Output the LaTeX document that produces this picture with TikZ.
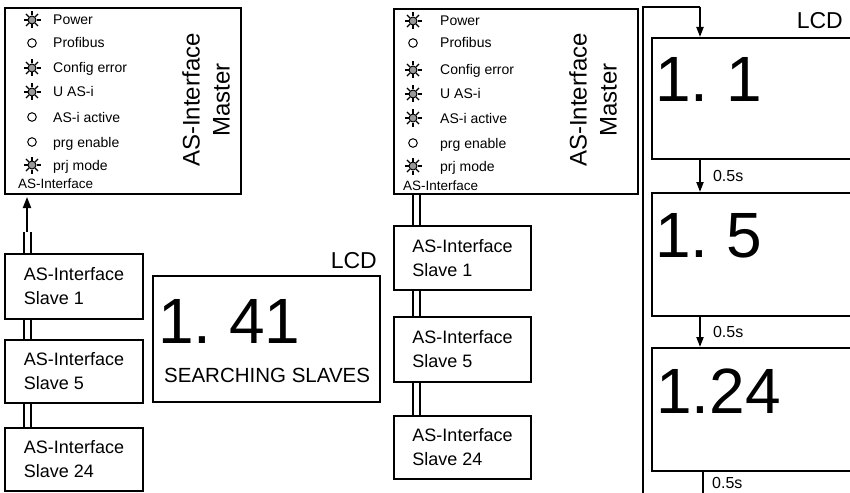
\documentclass[tikz,border=0pt]{standalone}
\usepackage{fontspec}
\setmainfont{Liberation Sans}
\usetikzlibrary{arrows.meta,backgrounds}
\begin{document}
\begin{tikzpicture}[x=1pt,y=-1pt,
  box/.style={draw, line width=2pt, inner sep=0pt},
  slave/.style={box, align=left, anchor=north west, minimum width=138pt, font=\fontsize{18}{24}\selectfont},
  ledtxt/.style={anchor=base west, inner sep=0pt, font=\fontsize{14}{16}\selectfont},
  bus/.style={double, double distance=5pt, line width=2pt},
  wire/.style={line width=2pt},
  arr/.style={line width=2pt, -{Triangle[length=10pt,width=7pt]}},
  big/.style={anchor=base west, inner sep=0pt, font=\fontsize{64}{70}\selectfont},
  lcdlabel/.style={anchor=base east, inner sep=0pt, font=\fontsize{23}{26}\selectfont},
  vtext/.style={rotate=90, align=center, inner sep=0pt, font=\fontsize{24}{30}\selectfont},
  smalltxt/.style={anchor=west, inner sep=0pt, font=\fontsize{16}{18}\selectfont},
  ledon/.pic={\fill[black!40] (0,0) circle (4pt);
    \draw[line width=1pt] (0,0) circle (4pt);
    \foreach \a in {0,45,...,315} \draw[line width=1.1pt] (\a:4.5pt) -- (\a:8.5pt);},
  ledoff/.pic={\draw[line width=1pt] (0,0) circle (4.3pt);}
]
\useasboundingbox (0,0) rectangle (850,492);
\clip (0,0) rectangle (850,492);

% ---------------- left master ----------------
\node[box, anchor=north west, minimum width=236pt, minimum height=186pt] (mA) at (4,7) {};
\node[vtext] (mAt) at (206,100) {AS-Interface\\Master};
\foreach \y/\t/\s in {20/Power/ledon, 43/Profibus/ledoff, 68/Config error/ledon, 92/U AS-i/ledon,
                      117/AS-i active/ledoff, 142/prg enable/ledoff, 165/prj mode/ledon}{
  \pic at (32,\y) {\s};
  \node[ledtxt] at (53,\y+5) {\t};
}
\node[ledtxt, font=\fontsize{13.5}{16}\selectfont] (mAb) at (18,188) {AS-Interface};

% left slaves
\node[slave, minimum height=65pt] (s1A) at (4,253) {AS-Interface\\Slave 1};
\node[slave, minimum height=63pt] (s5A) at (4,339) {AS-Interface\\Slave 5};
\node[slave, minimum height=63pt] (s24A) at (4,427) {AS-Interface\\Slave 24};

% left LCD
\node[box, anchor=north west, minimum width=227pt, minimum height=126pt] (lcdA) at (152,275) {};
\node[lcdlabel] (lcdAl) at (377,268) {LCD};
\node[big] (lcdAv) at (158,343) {1.\ 41};
\node[anchor=base west, inner sep=0pt, font=\fontsize{20.5}{24}\selectfont] (lcdAs) at (164,382) {SEARCHING SLAVES};

% left bus
\coordinate (jA) at (27,232);
\coordinate (tipA) at (27,197);
\begin{scope}[on background layer]
  \draw[bus] (jA) -- (jA |- s1A.north);
  \draw[bus] (jA |- s1A.south) -- (jA |- s5A.north);
  \draw[bus] (jA |- s5A.south) -- (jA |- s24A.north);
\end{scope}
\draw[line width=2pt, -{Triangle[length=11pt,width=8pt]}] (jA) -- (tipA);

% ---------------- right master ----------------
\node[box, anchor=north west, minimum width=244pt, minimum height=185pt] (mB) at (393,8) {};
\node[vtext] (mBt) at (593,100) {AS-Interface\\Master};
\foreach \y/\t/\s in {21/Power/ledon, 43/Profibus/ledoff, 70/Config error/ledon, 94/U AS-i/ledon,
                      118/AS-i active/ledon, 143/prg enable/ledoff, 166/prj mode/ledon}{
  \pic at (413,\y) {\s};
  \node[ledtxt] at (440,\y+5) {\t};
}
\node[ledtxt, font=\fontsize{13.5}{16}\selectfont] (mBb) at (403,190) {AS-Interface};

% right slaves
\node[slave, minimum width=137pt, minimum height=64pt] (s1B) at (393,225) {AS-Interface\\Slave 1};
\node[slave, minimum width=137pt, minimum height=65pt] (s5B) at (393,316) {AS-Interface\\Slave 5};
\node[slave, minimum width=137pt, minimum height=63pt] (s24B) at (393,415) {AS-Interface\\Slave 24};

\coordinate (jB) at (416.5,193);
\begin{scope}[on background layer]
  \draw[bus] (jB |- mB.south) -- (jB |- s1B.north);
  \draw[bus] (jB |- s1B.south) -- (jB |- s5B.north);
  \draw[bus] (jB |- s5B.south) -- (jB |- s24B.north);
\end{scope}

% ---------------- right LCD sequence ----------------
\node[box, anchor=north west, minimum width=215pt, minimum height=121pt] (lcd1) at (651,37) {};
\node[box, anchor=north west, minimum width=215pt, minimum height=123pt] (lcd2) at (651,192) {};
\node[box, anchor=north west, minimum width=215pt, minimum height=123pt] (lcd3) at (651,347) {};
\node[lcdlabel] (lcdBl) at (843,29) {LCD};
\node[big] (v1) at (655,102) {1.\ 1};
\node[big] (v2) at (655,257) {1.\ 5};
\node[big] (v3) at (656,413) {1.24};

\coordinate (loopBot) at (643,500);
\coordinate (loopTop) at (643,7);
\coordinate (aX) at (700,7);
\coordinate (eX) at (703,500);
\draw[wire] (loopBot) -- (loopTop) -- (aX);
\draw[arr] (aX) -- (aX |- lcd1.north);
\draw[arr] (aX |- lcd1.south) -- (aX |- lcd2.north)
  node[pos=0.5, smalltxt, xshift=12pt] {0.5s};
\draw[arr] (aX |- lcd2.south) -- (aX |- lcd3.north)
  node[pos=0.5, smalltxt, xshift=12pt] {0.5s};
\draw[wire] (eX |- lcd3.south) -- (eX);
\node[anchor=base west, inner sep=0pt, font=\fontsize{16}{18}\selectfont] (t3) at (712,488) {0.5s};
\end{tikzpicture}
\end{document}
